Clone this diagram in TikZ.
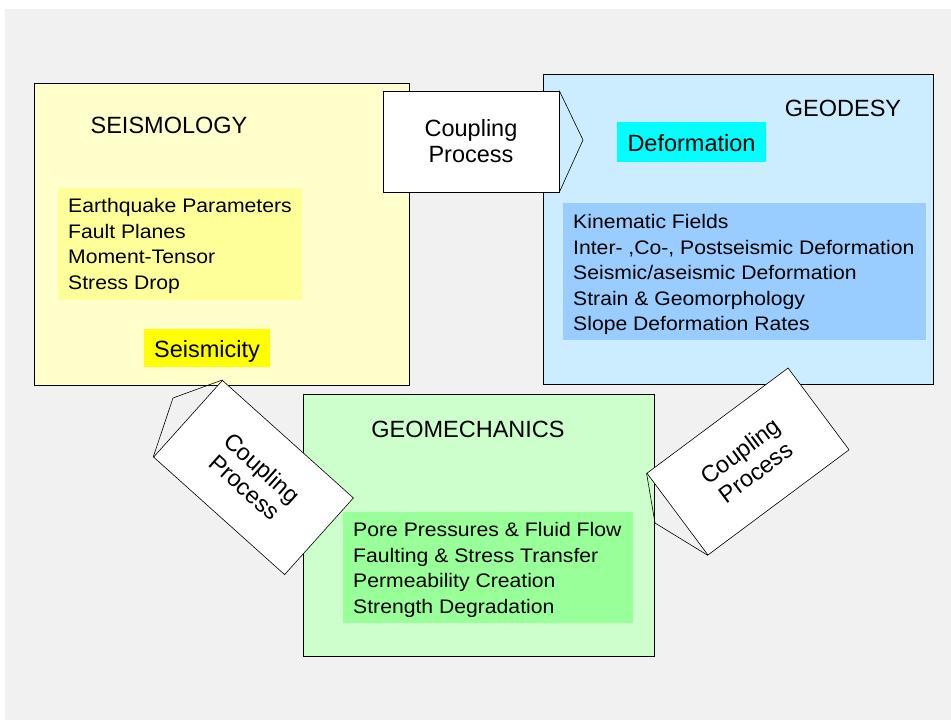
\documentclass[tikz,border=0pt]{standalone}
\usepackage{fontspec}
\setmainfont{Liberation Sans}
\newfontfamily\itemfont{Liberation Sans}[FakeStretch=1.08]
\definecolor{bggray}{HTML}{F1F1F1}
\definecolor{seisfill}{HTML}{FFFFCC}
\definecolor{seisitem}{HTML}{FFFF99}
\definecolor{seislab}{HTML}{FFFF00}
\definecolor{geodfill}{HTML}{CCECFF}
\definecolor{geoditem}{HTML}{99CCFF}
\definecolor{geodlab}{HTML}{00FFFF}
\definecolor{geomfill}{HTML}{CCFFCC}
\definecolor{geomitem}{HTML}{99FF99}
\begin{document}
\begin{tikzpicture}[x=1pt,y=-1pt,
  bigbox/.style={draw=black, line width=0.8pt, rectangle, inner sep=0pt},
  itembox/.style={rectangle, inner sep=0pt, draw=none},
  itemtext/.style={font=\itemfont\fontsize{19.6}{25.5}\selectfont, align=left, anchor=west, inner sep=0pt},
  titletext/.style={font=\fontsize{23.5}{26}\selectfont, inner sep=0pt},
  labelbox/.style={font=\fontsize{23.5}{26}\selectfont, inner sep=0pt, text height=19pt, text depth=0pt},
  coupling/.style={draw=black, line width=0.6pt, fill=white, font=\fontsize{23.5}{26}\selectfont, align=center, inner sep=0pt, minimum width=176pt, minimum height=102pt},
  chevron/.style={draw=black, line width=0.6pt}
]
\useasboundingbox (0,0) rectangle (951,720);
\fill[white] (0,0) rectangle (951,720);
\fill[bggray] (5,9) rectangle (951,720);

% Seismology
\node[bigbox, fill=seisfill, minimum width=375pt, minimum height=302pt] (seis) at (221.5,234) {};
\node[titletext] (seistitle) at (169,125.3) {SEISMOLOGY};
\node[itembox, fill=seisitem, minimum width=244pt, minimum height=112pt] (seisbox) at (180,244) {};
\node[itemtext] (seistext) at (68,246) {Earthquake Parameters\\Fault Planes\\Moment-Tensor\\Stress Drop};
\node[labelbox, fill=seislab, minimum width=126pt, minimum height=38pt] (seislabel) at (207,348) {Seismicity};

% Geodesy
\node[bigbox, fill=geodfill, minimum width=390pt, minimum height=310pt] (geod) at (738,229) {};
\node[titletext] (geodtitle) at (843,108.7) {GEODESY};
\node[labelbox, fill=geodlab, minimum width=149pt, minimum height=40pt] (geodlabel) at (691.5,142) {Deformation};
\node[itembox, fill=geoditem, minimum width=363pt, minimum height=137pt] (geodbox) at (744.5,271.5) {};
\node[itemtext] (geodtext) at (573,274.9) {Kinematic Fields\\Inter- ,Co-, Postseismic Deformation\\Seismic/aseismic Deformation\\Strain \& Geomorphology\\Slope Deformation Rates};

% Geomechanics
\node[bigbox, fill=geomfill, minimum width=351pt, minimum height=262pt] (geom) at (478.5,525) {};
\node[titletext] (geomtitle) at (468,429.5) {GEOMECHANICS};
\node[itembox, fill=geomitem, minimum width=290pt, minimum height=111pt] (geombox) at (488,567.5) {};
\node[itemtext] (geomtext) at (353,570) {Pore Pressures \& Fluid Flow\\Faulting \& Stress Transfer\\Permeability Creation\\Strength Degradation};

% Coupling processes
\node[coupling, minimum height=101pt] (cpT) at (471,141.5) {Coupling\\Process};
\coordinate (tipT) at (583,140);
\draw[chevron] (cpT.north east) -- (tipT) -- (cpT.south east);

\node[coupling, minimum height=103pt, rotate=-41.9] (cpL) at (253.5,477.5) {Coupling\\Process};
\coordinate (tipL) at (173,398);
\draw[chevron] (cpL.north west) -- (tipL) -- (cpL.south west);

\node[coupling, rotate=36.7] (cpR) at (748,461.5) {Coupling\\Process};
\coordinate (tipR) at (655,523);
\draw[chevron] (cpR.north west) -- (tipR) -- (cpR.south west);
\end{tikzpicture}
\end{document}
